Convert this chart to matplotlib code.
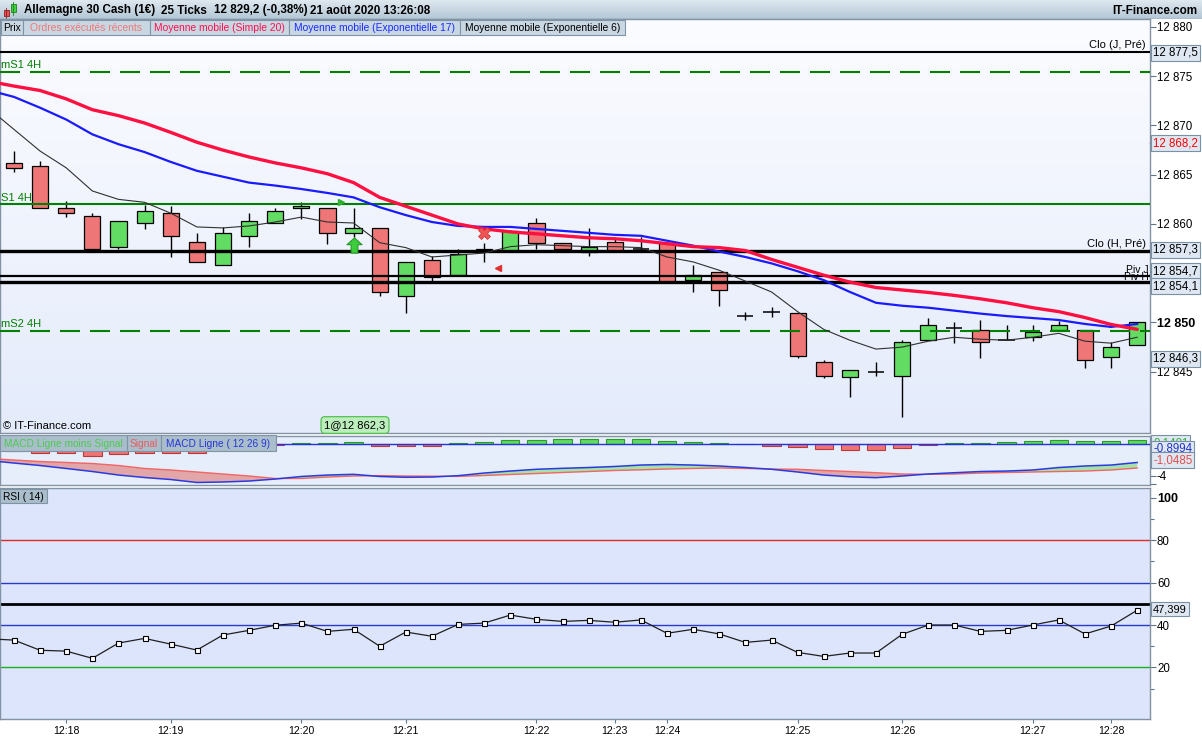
import numpy as np
import matplotlib
matplotlib.use("Agg")
import matplotlib.pyplot as plt
from matplotlib.colors import LinearSegmentedColormap
from matplotlib.patches import Rectangle
from matplotlib.path import Path
import matplotlib.transforms as mtrans

plt.rcParams['font.family'] = ['Liberation Sans', 'DejaVu Sans']

# ------------------------------------------------------------------ data
open_ = [12866.2, 12865.9, 12861.6, 12860.8, 12857.7, 12860.1, 12861.1, 12858.2, 12855.8, 12858.75,
         12860.1, 12861.6, 12861.6, 12859.05, 12859.56, 12852.7, 12856.3, 12854.8, 12857.25, 12857.25,
         12860.1, 12858.04, 12857.2, 12858.2, 12857.5, 12858.04, 12854.3, 12855.1, 12850.7, 12851.1,
         12851.0, 12845.96, 12844.44, 12844.95, 12844.6, 12848.2, 12849.47, 12849.2, 12848.2, 12848.5,
         12849.2, 12849.2, 12846.5, 12847.7]
high_ = [12867.4, 12866.4, 12862.3, 12861.1, 12860.3, 12861.9, 12861.85, 12859.05, 12859.7, 12861.1,
         12861.6, 12862.2, 12861.6, 12861.6, 12859.56, 12856.1, 12856.7, 12857.5, 12858.1, 12859.4,
         12860.6, 12858.04, 12859.56, 12858.55, 12858.7, 12858.04, 12855.8, 12855.1, 12851.1, 12851.6,
         12851.0, 12846.2, 12845.15, 12845.96, 12848.2, 12850.5, 12850.0, 12850.25, 12849.7, 12849.7,
         12850.2, 12849.2, 12848.0, 12850.0]
low_ = [12865.3, 12861.6, 12860.7, 12857.5, 12857.5, 12859.5, 12856.6, 12856.1, 12855.8, 12857.7,
        12860.1, 12860.5, 12858.0, 12858.7, 12852.7, 12851.0, 12854.0, 12854.8, 12856.1, 12857.25,
        12857.5, 12857.25, 12856.7, 12857.25, 12857.2, 12854.08, 12853.07, 12851.7, 12850.3, 12850.6,
        12846.4, 12844.4, 12842.4, 12844.6, 12840.4, 12848.2, 12847.95, 12846.4, 12848.2, 12848.15,
        12849.2, 12845.4, 12845.4, 12847.7]
close_ = [12865.65, 12861.6, 12861.1, 12857.5, 12860.3, 12861.3, 12858.75, 12856.1, 12859.05, 12860.3,
          12861.3, 12861.8, 12859.05, 12859.56, 12853.07, 12856.1, 12854.65, 12856.95, 12857.5, 12859.26,
          12858.04, 12857.5, 12857.7, 12857.25, 12857.5, 12854.08, 12854.8, 12853.3, 12850.7, 12851.1,
          12846.6, 12844.6, 12845.15, 12844.95, 12848.0, 12849.7, 12849.47, 12848.0, 12848.2, 12849.0,
          12849.7, 12846.2, 12847.5, 12850.0]

# indicator series: first value belongs to the bar just before the first visible candle
sma20 = [12874.5, 12874.0, 12873.55, 12872.7, 12871.6, 12871.0, 12870.25, 12869.3, 12868.3, 12867.5,
         12866.8, 12866.2, 12865.7, 12865.1, 12864.2, 12862.7, 12861.8, 12860.9, 12860.0, 12859.5,
         12859.2, 12859.0, 12858.8, 12858.6, 12858.5, 12858.3, 12858.0, 12857.7, 12857.6, 12857.3,
         12856.4, 12855.6, 12854.8, 12854.1, 12853.55, 12853.3, 12853.05, 12852.75, 12852.4, 12852.0,
         12851.5, 12851.1, 12850.5, 12849.8, 12849.3]
ema17 = [12873.6, 12872.9, 12871.8, 12870.6, 12869.1, 12868.1, 12867.3, 12866.3, 12865.4, 12864.8,
         12864.2, 12863.9, 12863.55, 12863.15, 12862.7, 12861.7, 12860.9, 12860.2, 12859.8, 12859.7,
         12859.7, 12859.5, 12859.3, 12859.1, 12858.9, 12858.8, 12858.3, 12857.8, 12857.2, 12856.65,
         12856.0, 12855.2, 12854.3, 12853.1, 12852.0, 12851.7, 12851.5, 12851.2, 12850.9, 12850.65,
         12850.45, 12850.25, 12849.85, 12849.55, 12849.85]
ema6 = [12871.8, 12869.6, 12867.4, 12865.7, 12863.35, 12862.5, 12862.2, 12861.1, 12859.7, 12859.6,
        12859.8, 12860.2, 12860.7, 12860.2, 12860.1, 12858.1, 12857.6, 12856.65, 12856.85, 12857.05,
        12857.7, 12857.9, 12857.8, 12857.7, 12857.7, 12857.6, 12856.65, 12856.15, 12855.3, 12854.2,
        12853.1, 12851.1, 12849.3, 12848.2, 12847.3, 12847.5, 12848.1, 12848.5, 12848.3, 12848.2,
        12848.5, 12848.9, 12848.1, 12847.9, 12848.5]
macd_line = [-2.06, -2.38, -2.69, -3.06, -3.44, -3.88, -4.19, -4.44, -4.81, -4.75,
             -4.63, -4.38, -4.06, -3.88, -3.79, -4.06, -4.16, -4.13, -3.96, -3.63,
             -3.38, -3.16, -3.04, -2.94, -2.81, -2.63, -2.56, -2.63, -2.75, -2.94,
             -3.16, -3.5, -3.88, -4.1, -4.21, -4.0, -3.75, -3.59, -3.44, -3.38,
             -3.25, -2.94, -2.75, -2.63, -2.31]
macd_signal = [-1.81, -2.0, -2.19, -2.31, -2.44, -2.69, -3.06, -3.25, -3.5, -3.75,
               -4.0, -4.31, -4.31, -4.13, -4.0, -3.95, -4.0, -4.02, -4.05, -3.94,
               -3.81, -3.69, -3.56, -3.44, -3.31, -3.23, -3.13, -3.06, -3.0, -3.06,
               -3.13, -3.16, -3.31, -3.44, -3.59, -3.75, -3.79, -3.75, -3.63, -3.56,
               -3.5, -3.44, -3.38, -3.25, -3.0]
macd_hist = [-0.9, -1.09, -1.09, -1.46, -1.29, -1.09, -1.09, -1.09, -0.8, -0.5,
             -0.12, 0.16, 0.16, 0.25, -0.21, -0.21, -0.21, 0.12, 0.25, 0.46,
             0.46, 0.59, 0.59, 0.59, 0.59, 0.34, 0.21, 0.09, 0.0, -0.21,
             -0.41, -0.66, -0.79, -0.79, -0.54, -0.16, 0.12, 0.12, 0.25, 0.38,
             0.5, 0.38, 0.38, 0.5]
rsi14 = [33.5, 32.9, 28.1, 27.7, 24.3, 31.5, 33.7, 31.0, 28.2, 35.3,
         37.5, 39.9, 40.9, 37.0, 38.0, 30.0, 36.7, 34.7, 40.3, 40.9,
         44.7, 42.7, 41.7, 42.2, 41.3, 42.4, 36.1, 38.0, 35.8, 31.8,
         32.9, 27.1, 25.2, 26.8, 26.8, 35.6, 40.0, 40.0, 37.0, 37.5,
         40.0, 42.4, 35.8, 39.5, 47.0]

macd_last = [0.1481, -0.8994, -1.0485]   # hist, MACD line, signal (as printed)
rsi_last = 47.399

time_tick_bars = [2, 6, 11, 15, 20, 23, 25, 30, 34, 39, 42]
time_tick_labels = ['12:18', '12:19', '12:20', '12:21', '12:22', '12:23', '12:24',
                    '12:25', '12:26', '12:27', '12:28']

price_ticks = [12845, 12850, 12860, 12865, 12870, 12875, 12880]
clo_j, ms1_4h, s1_4h, clo_h, piv_j, piv_h, ms2_4h = 12877.5, 12875.45, 12862.0, 12857.3, 12854.7, 12854.1, 12849.15
last_price, bid_price = 12868.2, 12846.3

# executed orders / signals markers (bar position, price)
arrow_up = (13, 12857.9)
cross_mark = (18, 12859.1)
tri_left = (18.53, 12855.5)
tri_right = (12.52, 12862.2)

# ------------------------------------------------------------------ layout helpers
W, H = 1202, 740
fig = plt.figure(figsize=(W / 100, H / 100), dpi=100, facecolor='white')


def rect(l, t, r, b):
    return [l / W, 1 - b / H, (r - l) / W, (b - t) / H]


def fx(x):
    return x / W


def fy(y):
    return 1 - y / H


def grad(ax, top, bottom):
    cm = LinearSegmentedColormap.from_list('g', [bottom, top])
    ax.imshow(np.linspace(0, 1, 256).reshape(-1, 1), cmap=cm, aspect='auto',
              extent=[0, 1, 0, 1], transform=ax.transAxes, origin='lower',
              zorder=0, interpolation='bilinear')


SPINE = '#8393a3'
BOXFC = '#dfe8f2'
BOXEC = '#7a90a4'
XL = (-0.536, 43.49)
x = np.arange(len(open_))
xm = np.arange(-1, len(open_))


def style_axes(ax):
    for s in ax.spines.values():
        s.set_color(SPINE)
        s.set_linewidth(1.0)
    ax.yaxis.tick_right()
    ax.tick_params(axis='y', which='both', length=4, width=0.8, color='#60758a',
                   labelsize=8.3, pad=1, labelcolor='black')
    ax.tick_params(axis='y', which='minor', length=3)


def value_box(ax, yval, txt, color='black', dy=0, z=8, coords=None, fs=8.3):
    xyc = coords if coords is not None else ax.get_yaxis_transform()
    ax.annotate(txt, xy=(1, yval), xycoords=xyc, xytext=(3, dy),
                textcoords='offset pixels', ha='left', va='center', fontsize=fs,
                color=color, annotation_clip=False, zorder=z,
                bbox=dict(boxstyle='square,pad=0.18', fc=BOXFC, ec=BOXEC, lw=0.8))


def fmt_price(v):
    s = f"{v:,.1f}".replace(',', ' ').replace('.', ',')
    if s.endswith(',0'):
        s = s[:-2]
    return s


# ------------------------------------------------------------------ header
axh = fig.add_axes(rect(0, 0, W, 19))
axh.axis('off')
grad(axh, '#dfe8ef', '#b3c7d6')
axh.set_xlim(0, W)
axh.set_ylim(19, 0)
axh.add_patch(Rectangle((3.5, 9.5), 5, 6, fc='#e85050', ec='#902020', lw=0.6))
axh.plot([6, 6], [7.5, 17.5], color='#902020', lw=0.6)
axh.add_patch(Rectangle((10.5, 4), 5.5, 8, fc='#40d040', ec='#208020', lw=0.6))
axh.plot([13.2, 13.2], [2, 14.5], color='#208020', lw=0.6)
axh.axhline(18.6, color='#8aa0b2', lw=1)

hdr_y = fy(10.5)
fig.text(fx(24), hdr_y, 'Allemagne 30 Cash (1€)', fontsize=8.4, fontweight='bold', va='center')
fig.text(fx(161), hdr_y, '25 Ticks', fontsize=8.4, fontweight='bold', va='center')
fig.text(fx(214), hdr_y, '12 829,2 (-0,38%)', fontsize=8.4, fontweight='bold', va='center')
fig.text(fx(310), hdr_y, '21 août 2020 13:26:08', fontsize=8.4, fontweight='bold', va='center')
fig.text(fx(1197), hdr_y, 'IT-Finance.com', fontsize=8.4, fontweight='bold', va='center', ha='right')

# ------------------------------------------------------------------ price panel
axp = fig.add_axes(rect(0, 19, 1150, 433))
grad(axp, '#fbfcff', '#e4ebfb')
style_axes(axp)

o, h, l, c = map(np.array, (open_, high_, low_, close_))
up, dn, dj = c > o, c < o, c == o
bw = 0.62
axp.vlines(x, l, h, color='black', lw=1.0, zorder=2)
axp.bar(x[up], (c - o)[up], bottom=o[up], width=bw, color='#62dc62', edgecolor='black', lw=0.9, zorder=3)
axp.bar(x[dn], (o - c)[dn], bottom=c[dn], width=bw, color='#ee7676', edgecolor='black', lw=0.9, zorder=3)
axp.hlines(c[dj], x[dj] - bw / 2, x[dj] + bw / 2, color='black', lw=1.1, zorder=3)

# horizontal levels
axp.axhline(clo_j, color='black', lw=1.5, zorder=4)
axp.axhline(ms1_4h, color='#008000', lw=1.5, dashes=(9.6, 4.8), zorder=4)
axp.axhline(s1_4h, color='#008000', lw=1.5, zorder=4)
axp.axhline(clo_h, color='black', lw=2.4, zorder=4)
axp.axhline(piv_j, color='black', lw=1.6, zorder=4)
axp.axhline(piv_h, color='black', lw=2.4, zorder=4)
axp.axhline(ms2_4h, color='#008000', lw=1.5, dashes=(9.6, 4.8), zorder=4)

# moving averages
axp.plot(xm, ema6, color='#303030', lw=0.8, zorder=5)
axp.plot(xm, ema17, color='#1a1aff', lw=1.6, zorder=5)
axp.plot(xm, sma20, color='#ff1040', lw=2.4, zorder=5, solid_capstyle='round')

# markers
arrow_path = Path([(0, 1), (-1, 0.1), (-0.45, 0.1), (-0.45, -1), (0.45, -1), (0.45, 0.1), (1, 0.1), (0, 1)],
                  [1, 2, 2, 2, 2, 2, 2, 79])
axp.plot([arrow_up[0]], [arrow_up[1]], marker=arrow_path, ms=11, mfc='#3ccc3c', mec='#1f8f1f', mew=0.7, zorder=7)
axp.plot([cross_mark[0]], [cross_mark[1]], marker='X', ms=9, mfc='#ee5555', mec='#d03030', mew=0.5, zorder=7)
axp.plot([tri_left[0]], [tri_left[1]], marker='<', ms=5, color='#e03030', zorder=7)
axp.plot([tri_right[0]], [tri_right[1]], marker='>', ms=5, color='#30b030', zorder=7)

axp.set_xlim(*XL)
axp.set_ylim(12838.78, 12880.81)
axp.set_xticks([])
axp.set_yticks(price_ticks)
axp.set_yticklabels([fmt_price(v) for v in price_ticks])
for t, v in zip(axp.get_yticklabels(), price_ticks):
    if v == 12850:
        t.set_fontweight('bold')
        t.set_fontsize(9)

ytr = axp.get_yaxis_transform()
green_txt = '#008000'
axp.annotate('mS1 4H', xy=(0.001, ms1_4h), xycoords=ytr, xytext=(0, 2), textcoords='offset pixels',
             fontsize=8, color=green_txt, va='bottom', zorder=6)
axp.annotate('S1 4H', xy=(0.001, s1_4h), xycoords=ytr, xytext=(0, 1), textcoords='offset pixels',
             fontsize=8, color=green_txt, va='bottom', zorder=6)
axp.annotate('mS2 4H', xy=(0.001, ms2_4h), xycoords=ytr, xytext=(0, 2), textcoords='offset pixels',
             fontsize=8, color=green_txt, va='bottom', zorder=6)
axp.annotate('Clo (J, Pré)', xy=(0.9965, clo_j), xycoords=ytr, xytext=(0, 2), textcoords='offset pixels',
             fontsize=8, color='black', va='bottom', ha='right', zorder=6)
axp.annotate('Clo (H, Pré)', xy=(0.9965, clo_h), xycoords=ytr, xytext=(0, 2), textcoords='offset pixels',
             fontsize=8, color='black', va='bottom', ha='right', zorder=6)
axp.annotate('Piv J', xy=(0.999, piv_j), xycoords=ytr, xytext=(0, 1), textcoords='offset pixels',
             fontsize=7.5, color='black', va='bottom', ha='right', zorder=6)
axp.annotate('Piv H', xy=(0.999, piv_h), xycoords=ytr, xytext=(0, 0), textcoords='offset pixels',
             fontsize=7.5, color='black', va='bottom', ha='right', zorder=4.5)

value_box(axp, clo_j, fmt_price(clo_j), dy=-1)
axp.plot([1, 1.004], [last_price, last_price], transform=ytr, color='red', lw=1, clip_on=False)
value_box(axp, last_price, fmt_price(last_price), color='red')
value_box(axp, clo_h, fmt_price(clo_h), dy=1)
value_box(axp, piv_j, fmt_price(piv_j), dy=5)
value_box(axp, piv_h, fmt_price(piv_h), dy=-4)
value_box(axp, bid_price, fmt_price(bid_price), dy=0)

fig.text(fx(3), fy(426), '© IT-Finance.com', fontsize=8, va='center', color='black')
fig.text(fx(355), fy(425), '1@' + fmt_price(12862.3), fontsize=8, va='center', ha='center', zorder=12,
         bbox=dict(boxstyle='round,pad=0.3,rounding_size=0.35', fc='#bcedbc', ec='#55c055', lw=0.9))

# ------------------------------------------------------------------ MACD panel
axm = fig.add_axes(rect(0, 436, 1150, 485))
axm.set_facecolor('#e6edfb')
style_axes(axm)
hist = np.array(macd_hist)
axm.bar(x[hist >= 0], hist[hist >= 0], width=0.7, color='#5fdb5f', edgecolor='#2e9a2e', lw=0.8, zorder=3)
axm.bar(x[hist < 0], hist[hist < 0], width=0.7, color='#f07373', edgecolor='#b83a3a', lw=0.8, zorder=3)
axm.axhline(0, color='#2233dd', lw=1.0, zorder=4)
ml, ms = np.array(macd_line), np.array(macd_signal)
axm.fill_between(xm, ml, ms, where=ms >= ml, interpolate=True, color='#e39a9a', alpha=0.85, lw=0, zorder=2)
axm.fill_between(xm, ml, ms, where=ml >= ms, interpolate=True, color='#9be09b', alpha=0.85, lw=0, zorder=2)
axm.plot(xm, ms, color='#f06565', lw=1.0, zorder=4)
axm.plot(xm, ml, color='#2a3ae0', lw=1.1, zorder=4)
axm.set_xlim(*XL)
axm.set_ylim(-5.125, 1.0)
axm.set_xticks([])
axm.set_yticks([-3, -4, -5])
axm.set_yticklabels(['', '-4', ''])
fmt4 = lambda v: f"{v:.4f}".replace('.', ',')
value_box(axm, 0.857, fmt4(macd_last[0]), color='#30b030', coords='axes fraction', z=8)
value_box(axm, 0.735, fmt4(macd_last[1]), color='#2233cc', coords='axes fraction', z=9)
value_box(axm, 0.51, fmt4(macd_last[2]), color='#e05050', coords='axes fraction', z=10)

# ------------------------------------------------------------------ RSI panel
axr = fig.add_axes(rect(0, 488, 1150, 719))
axr.set_facecolor('#dce5fb')
style_axes(axr)
axr.axhline(80, color='#e02a2a', lw=1.0, zorder=2)
axr.axhline(60, color='#2a3acc', lw=1.0, zorder=2)
axr.axhline(50, color='black', lw=2.0, zorder=2)
axr.axhline(40, color='#2a3acc', lw=1.0, zorder=2)
axr.axhline(20, color='#1fb01f', lw=1.0, zorder=2)
axr.plot(xm, rsi14, color='#202020', lw=0.9, marker='s', ms=3.6, mfc='white', mec='black', mew=0.8, zorder=4)
axr.set_xlim(*XL)
axr.set_ylim(-4.3, 104.6)
axr.set_yticks([20, 40, 60, 80, 100])
axr.set_yticklabels(['20', '40', '60', '80', '100'])
axr.set_yticks([10, 30, 50, 70, 90], minor=True)
for t in axr.get_yticklabels():
    if t.get_text() == '100':
        t.set_fontweight('bold')
        t.set_fontsize(9)
value_box(axr, rsi_last, f"{rsi_last:.3f}".replace('.', ','), fs=8)
axr.set_xticks(time_tick_bars)
axr.set_xticklabels(time_tick_labels)
axr.tick_params(axis='x', length=3, width=0.8, color='#60758a', labelsize=7.6, pad=2)

# ------------------------------------------------------------------ legend buttons


def button(l, t, r, b, txt, color, fc='#c9d7e3', fs=7.4):
    fig.patches.append(Rectangle((fx(l), fy(b)), (r - l) / W, (b - t) / H, transform=fig.transFigure,
                                 fc=fc, ec='#7f94a6', lw=0.8, zorder=10))
    fig.text(fx((l + r) / 2), fy((t + b) / 2 + 0.5), txt, color=color, fontsize=fs, ha='center',
             va='center', zorder=11)


button(1, 20, 23, 35, 'Prix', 'black')
button(23, 20, 150, 35, 'Ordres exécutés récents', '#ef7878')
button(150, 20, 289, 35, 'Moyenne mobile (Simple 20)', '#ff1050')
button(289, 20, 460, 35, 'Moyenne mobile (Exponentielle 17)', '#1a2cff')
button(460, 20, 625, 35, 'Moyenne mobile (Exponentielle 6)', 'black')

button(0, 435, 127, 451, 'MACD Ligne moins Signal', '#4ccc4c', fc='#a9bdcb', fs=7.3)
button(127, 435, 161, 451, 'Signal', '#ee5a5a', fc='#a9bdcb', fs=7.3)
button(161, 435, 276, 451, 'MACD Ligne ( 12 26 9)', '#2838d8', fc='#a9bdcb', fs=7.3)
button(0, 489, 47, 503, 'RSI ( 14)', 'black', fc='#a9bdcb', fs=7.3)

fig.savefig('out.png', dpi=100, facecolor='white')
